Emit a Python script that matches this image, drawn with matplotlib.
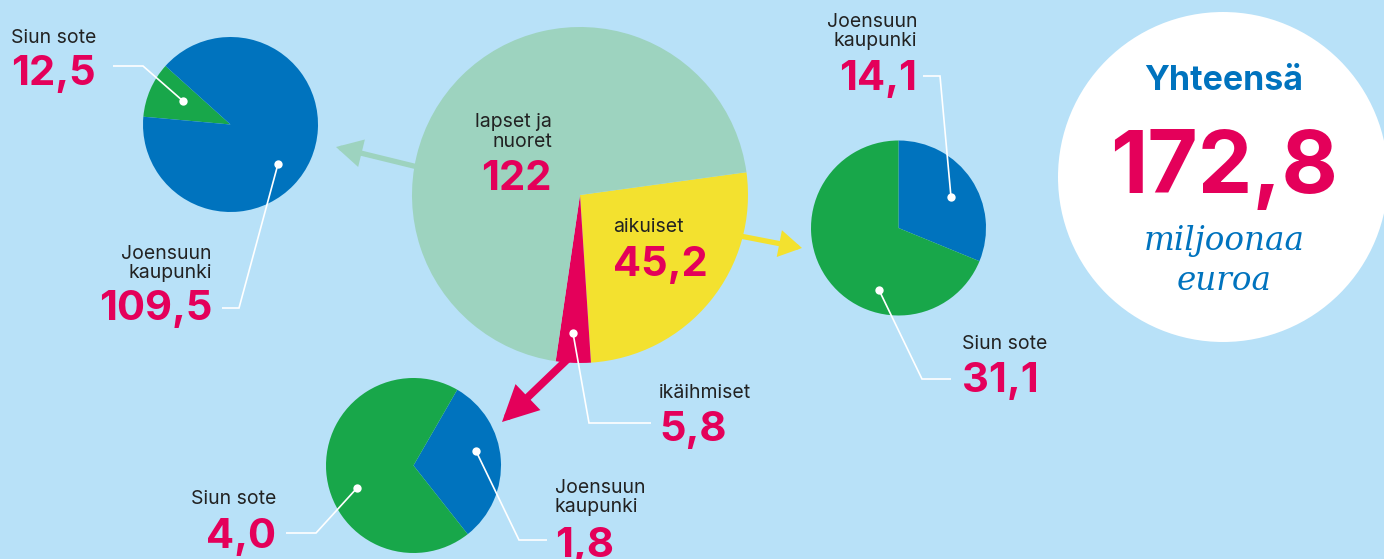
import matplotlib
matplotlib.use("Agg")
import matplotlib.pyplot as plt
from matplotlib.patches import Circle

# ---------------- data ----------------
main_names = ["aikuiset", "ikäihmiset", "lapset ja\nnuoret"]
main_values = [45.2, 5.8, 122]
main_decimals = [1, 1, 0]

lapset_names = ["Siun sote", "Joensuun\nkaupunki"]
lapset_values = [12.5, 109.5]

aikuiset_names = ["Joensuun\nkaupunki", "Siun sote"]
aikuiset_values = [14.1, 31.1]

ikaihmiset_names = ["Joensuun\nkaupunki", "Siun sote"]
ikaihmiset_values = [1.8, 4.0]

total_value = 172.8
total_title = "Yhteensä"
total_unit = "miljoonaa\neuroa"

# ---------------- style ----------------
W, H = 1384, 559
BG = "#b8e1f8"
C_LGREEN = "#9dd3bf"
C_YELLOW = "#f3e12f"
C_MAGENTA = "#e4005a"
C_BLUE = "#0073be"
C_GREEN = "#18a74a"
C_TEXT = "#222222"
SANS = ["Inter", "DejaVu Sans"]

def fmt(v, dec=1):
    return f"{v:.{dec}f}".replace(".", ",")

fig = plt.figure(figsize=(W / 100, H / 100), dpi=100, facecolor=BG)
ax = fig.add_axes([0, 0, 1, 1])
ax.set_facecolor(BG)

def P(x, y):
    return (x, H - y)

def pie(values, colors, center, r, start, ccw):
    ax.pie(values, colors=colors, center=P(*center), radius=r,
           startangle=start, counterclock=ccw, frame=True,
           wedgeprops=dict(linewidth=0, zorder=3))

def arrow(p0, p1, color, lw, hl, hw):
    ax.annotate("", xy=P(*p1), xytext=P(*p0),
                arrowprops=dict(arrowstyle=f"-|>,head_length={hl},head_width={hw}",
                                lw=lw, color=color, shrinkA=0, shrinkB=0,
                                mutation_scale=10, joinstyle="miter"),
                zorder=2)

def leader(points):
    xs = [p[0] for p in points]
    ys = [H - p[1] for p in points]
    ax.plot(xs, ys, color="white", lw=1.2, zorder=6, solid_joinstyle="miter",
            solid_capstyle="butt")
    ax.plot([xs[-1]], [ys[-1]], "o", color="white", ms=6, mec="none", zorder=7)

def label(name, value_text, x, name_base, value_base, ha, step=19.5):
    for i, line in enumerate(name.split("\n")):
        ax.text(*P(x, name_base + i * step), line, ha=ha, va="baseline",
                fontsize=14, color=C_TEXT, family=SANS, zorder=8)
    ax.text(*P(x, value_base), value_text, ha=ha, va="baseline",
            fontsize=30, fontweight="bold", color=C_MAGENTA, family=SANS, zorder=8)

# ---------------- arrows (under pies) ----------------
arrow((430, 170), (336, 147), C_LGREEN, 3.8, 1.3, 0.7)
arrow((735, 235), (802, 248), C_YELLOW, 3.8, 1.1, 0.65)
arrow((575, 352), (502, 422), C_MAGENTA, 5.5, 1.7, 0.85)

# ---------------- main pie ----------------
pie(main_values, [C_YELLOW, C_MAGENTA, C_LGREEN], (580, 195), 168, 7.8, False)

# ---------------- sub pies ----------------
pie(lapset_values, [C_GREEN, C_BLUE], (230.5, 124.5), 87.5, 138, True)
pie(aikuiset_values, [C_BLUE, C_GREEN], (898.5, 228), 87.5, 90, False)
pie(ikaihmiset_values, [C_BLUE, C_GREEN], (413.5, 465.5), 87.5, 60, False)

# ---------------- total circle ----------------
ax.add_patch(Circle(P(1223, 177), 165, color="white", zorder=3, lw=0))
ax.text(*P(1224, 90), total_title, ha="center", va="baseline", fontsize=24.5,
        fontweight="bold", color=C_BLUE, family=SANS, zorder=8)
ax.text(*P(1224, 193), fmt(total_value), ha="center", va="baseline", fontsize=62.5,
        fontweight="bold", color=C_MAGENTA, family=SANS, zorder=8)
for i, line in enumerate(total_unit.split("\n")):
    ax.text(*P(1224, 250 + i * 40), line, ha="center", va="baseline", fontsize=23.5,
            style="italic", color=C_BLUE, family=["DejaVu Serif"], zorder=8)

# ---------------- main pie labels ----------------
label(main_names[2], fmt(main_values[2], main_decimals[2]), 552, 127, 190, "right", 20)
label(main_names[0], fmt(main_values[0], main_decimals[0]), 613, 232, 276, "left")
label(main_names[1], fmt(main_values[1], main_decimals[1]), 659, 398, 441, "left")
leader([(651, 423), (589, 423), (573, 333)])

# ---------------- lapset labels ----------------
label(lapset_names[0], fmt(lapset_values[0]), 11, 43, 85, "left")
leader([(113, 66), (143, 66), (183, 101)])
label(lapset_names[1], fmt(lapset_values[1]), 212, 259, 320, "right")
leader([(222, 308), (239, 308), (278, 164)])

# ---------------- aikuiset labels ----------------
label(aikuiset_names[0], fmt(aikuiset_values[0]), 917, 27, 90, "right")
leader([(923, 76), (940, 76), (951, 197)])
label(aikuiset_names[1], fmt(aikuiset_values[1]), 962, 349, 392, "left")
leader([(951, 379), (922, 379), (879, 290)])

# ---------------- ikaihmiset labels ----------------
label(ikaihmiset_names[0], fmt(ikaihmiset_values[0]), 555, 493, 557, "left")
leader([(547, 540), (519, 540), (476, 451)])
label(ikaihmiset_names[1], fmt(ikaihmiset_values[1]), 276, 504, 548, "right")
leader([(286, 533), (316, 533), (357, 488)])

ax.set_xlim(0, W)
ax.set_ylim(0, H)
ax.set_aspect("equal")
ax.axis("off")

fig.savefig("out.png", dpi=100, facecolor=BG)
